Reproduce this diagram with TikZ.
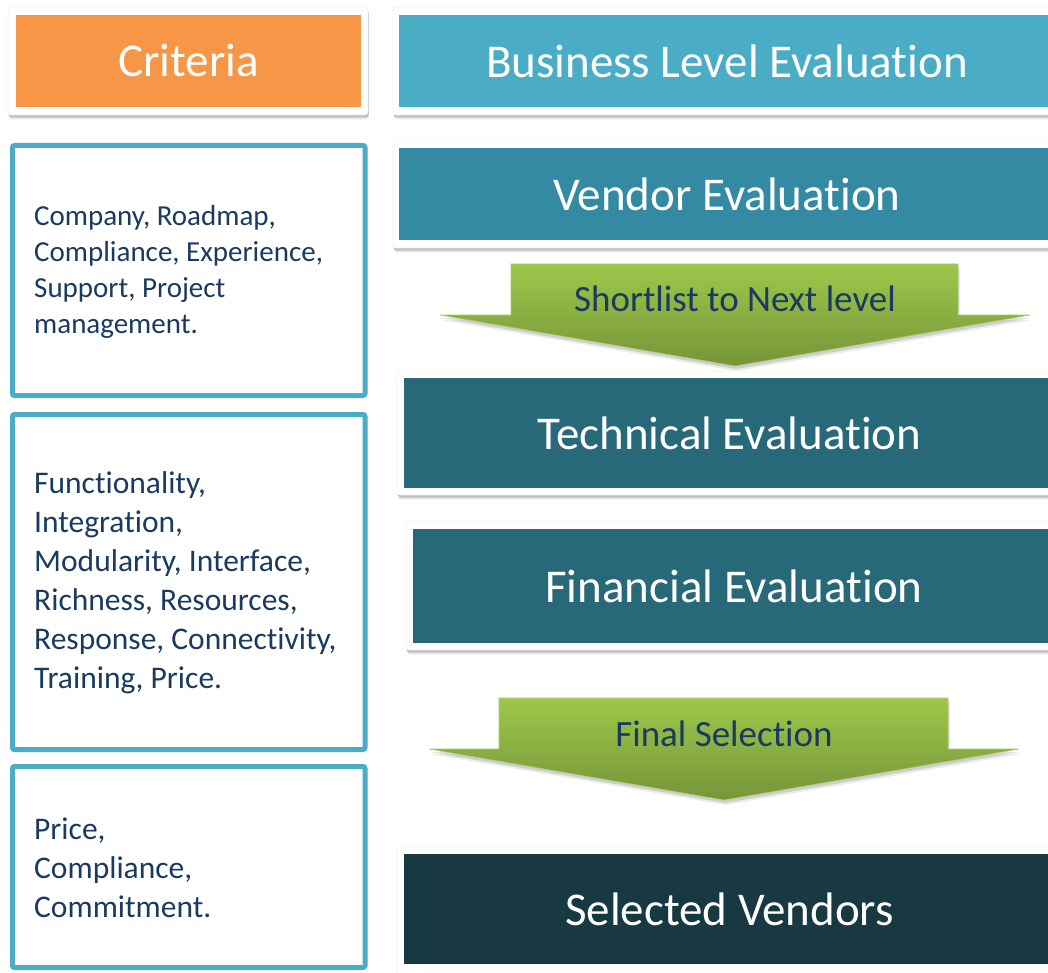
\documentclass[tikz,border=0pt]{standalone}
\usepackage{fontspec}
\setmainfont{Carlito}
\newcommand{\TI}{t\kern0pt i}
\usetikzlibrary{shadows}
\definecolor{orng}{HTML}{F79646}
\definecolor{blueA}{HTML}{4BACC6}
\definecolor{blueB}{HTML}{348AA3}
\definecolor{blueC}{HTML}{276879}
\definecolor{blueD}{HTML}{183842}
\definecolor{navy}{HTML}{1A3A60}
\definecolor{greenTop}{HTML}{9DC84A}
\definecolor{greenBot}{HTML}{76953A}
\definecolor{greenEdge}{HTML}{A8CF62}
\begin{document}
\begin{tikzpicture}[x=1pt,y=-1pt,
  card/.style={fill=white, draw=black!5, line width=0.6pt, rounded corners=3pt, inner sep=0pt,
    drop shadow={shadow xshift=0.5pt, shadow yshift=-1.5pt, opacity=0.12, fill=black},
    drop shadow={shadow xshift=0.8pt, shadow yshift=-3pt, opacity=0.12, fill=black},
    drop shadow={shadow xshift=1pt, shadow yshift=-4.5pt, opacity=0.08, fill=black}},
  head/.style={text=white, inner sep=0pt, draw=none, font=\fontsize{47}{56}\selectfont},
  critbox/.style={draw=blueA, line width=5pt, rounded corners=2pt, fill=white, inner sep=0pt},
  listA/.style={text=navy, inner sep=0pt, anchor=west, align=left, font=\fontsize{29}{36}\selectfont},
  listB/.style={text=navy, inner sep=0pt, anchor=west, align=left, font=\fontsize{31.5}{39}\selectfont},
  bigarrow/.style={top color=greenTop, bottom color=greenBot, draw=greenEdge, line width=0.6pt,
    drop shadow={shadow xshift=1pt, shadow yshift=-3pt, opacity=0.12, fill=black},
    drop shadow={shadow xshift=1.5pt, shadow yshift=-5pt, opacity=0.08, fill=black}},
  arrowtext/.style={text=navy, inner sep=0pt, font=\fontsize{37}{44}\selectfont}
]
\useasboundingbox (0,0) rectangle (1048,973);
\fill[white] (0,0) rectangle (1048,973);

% header cards
\node[card, minimum width=360, minimum height=108] (critcard) at (188,61) {};
\node[head, fill=orng, minimum width=345, minimum height=92] (crit) at (188.5,61) {Criteria};

\node[card, minimum width=667, minimum height=108] (buscard) at (726.5,61) {};
\node[head, fill=blueA, minimum width=656, minimum height=92] (bus) at (727,61) {Business Level Evalua\TI{}on};

\node[card, minimum width=667, minimum height=108] (vencard) at (726.5,194) {};
\node[head, fill=blueB, minimum width=656, minimum height=92] (ven) at (727,194) {Vendor Evalua\TI{}on};

\node[card, minimum width=663, minimum height=124] (teccard) at (728.5,433) {};
\node[head, fill=blueC, minimum width=651, minimum height=110] (tec) at (729.5,433) {Technical Evalua\TI{}on};

\node[card, minimum width=654, minimum height=128] (fincard) at (733,586) {};
\node[head, fill=blueC, minimum width=642, minimum height=114] (fin) at (734,586) {Financial Evalua\TI{}on};

\node[card, minimum width=663, minimum height=128] (selcard) at (728.5,911) {};
\node[head, fill=blueD, minimum width=651, minimum height=110] (sel) at (729.5,909) {Selected Vendors};

% criteria boxes
\node[critbox, minimum width=352.5, minimum height=250] (c1) at (188.75,270.5) {};
\node[critbox, minimum width=352.5, minimum height=335] (c2) at (188.75,582) {};
\node[critbox, minimum width=352.5, minimum height=201] (c3) at (188.75,867) {};

\node[listA] (t1) at (34,272) {Company, Roadmap,\\Compliance, Experience,\\Support, Project\\management.};
\node[listB] (t2) at (34,583) {Func\TI{}onality,\\Integra\TI{}on,\\Modularity, Interface,\\Richness, Resources,\\Response, Connec\TI{}vity,\\Training, Price.};
\node[listB] (t3) at (34,868) {Price,\\Compliance,\\Commitment.};

% arrows
\path[bigarrow] (511,264) -- (958,264) -- (958,315) -- (1030,315) -- (735,366) -- (440,315) -- (511,315) -- cycle;
\node[arrowtext] (short) at (735,299) {Shortlist to Next level};

\path[bigarrow] (499,698) -- (948,698) -- (948,749) -- (1019,749) -- (724,800) -- (429,749) -- (499,749) -- cycle;
\node[arrowtext] (final) at (724,734) {Final Selec\TI{}on};
\end{tikzpicture}
\end{document}
